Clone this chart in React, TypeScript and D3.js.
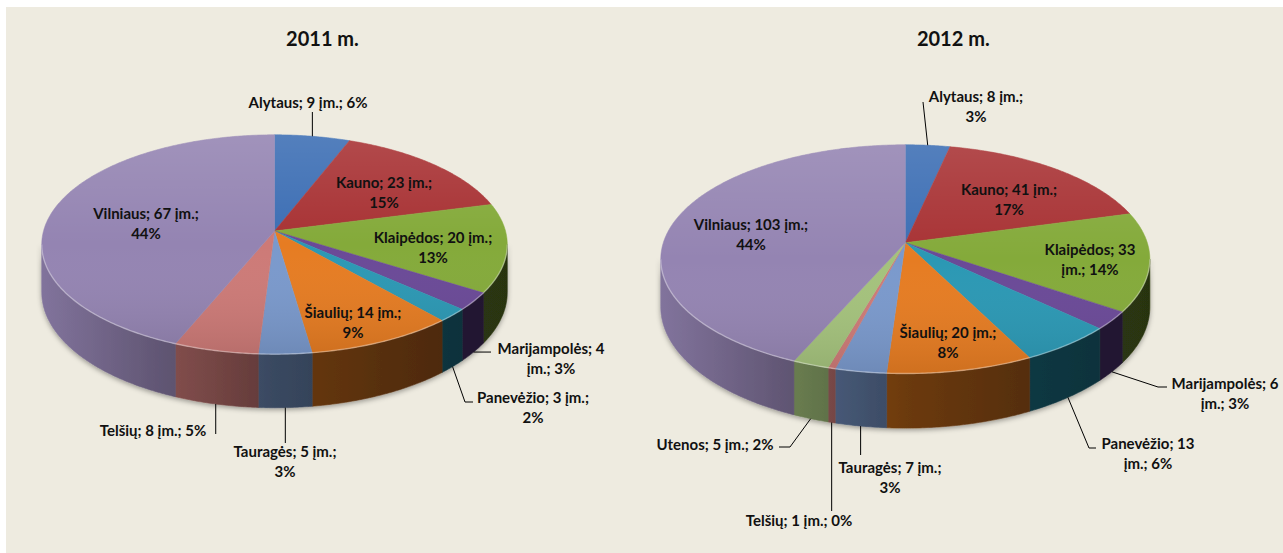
import * as d3 from "d3";

// --- data ---
const regions2011 = ["Alytaus", "Kauno", "Klaipėdos", "Marijampolės", "Panevėžio", "Šiaulių", "Tauragės", "Telšių", "Vilniaus"];
const companies2011 = [9, 23, 20, 4, 3, 14, 5, 8, 67];
const shares2011 = [6, 15, 13, 3, 2, 9, 3, 5, 44];

const regions2012 = ["Alytaus", "Kauno", "Klaipėdos", "Marijampolės", "Panevėžio", "Šiaulių", "Tauragės", "Telšių", "Utenos", "Vilniaus"];
const companies2012 = [8, 41, 33, 6, 13, 20, 7, 1, 5, 103];
const shares2012 = [3, 17, 14, 3, 6, 8, 3, 0, 2, 44];

const regionColors: Record<string, string> = {
  Alytaus: "#3c6eb4",
  Kauno: "#a83234",
  Klaipėdos: "#84aa3a",
  Marijampolės: "#6a4997",
  Panevėžio: "#2b98b4",
  Šiaulių: "#e67c22",
  Tauragės: "#7a99cc",
  Telšių: "#cd7a77",
  Utenos: "#a4c27c",
  Vilniaus: "#9484b2",
};

// --- layout ---
type Geo = { cx: number; cy: number; rx: number; ry: number; depth: number; k: number };
type Pt = [number | null, number | null];
type LabelPos = { x: number; y: number; wrap: "none" | "pct" | "unit"; leader?: Pt[] };

const geo2011: Geo = { cx: 274.5, cy: 231, rx: 231, ry: 108, depth: 47, k: 0.123 };
const geo2012: Geo = { cx: 905.3, cy: 242.7, rx: 242, ry: 112, depth: 46.7, k: 0.144 };

const labels2011: LabelPos[] = [
  { x: 308, y: 102, wrap: "none", leader: [[null, 112]] },
  { x: 384, y: 182, wrap: "pct" },
  { x: 433, y: 237, wrap: "pct" },
  { x: 551, y: 348, wrap: "unit", leader: [[491, null]] },
  { x: 533, y: 397, wrap: "pct", leader: [[465, 402], [473, 402]] },
  { x: 353, y: 312, wrap: "pct" },
  { x: 285, y: 451, wrap: "pct", leader: [[null, 443]] },
  { x: 153, y: 430, wrap: "none", leader: [[null, 434]] },
  { x: 146, y: 213, wrap: "pct" },
];

const labels2012: LabelPos[] = [
  { x: 976, y: 96, wrap: "pct", leader: [[923, 102]] },
  { x: 1009, y: 189, wrap: "pct" },
  { x: 1090, y: 249, wrap: "unit" },
  { x: 1225, y: 383, wrap: "unit", leader: [[1158, 387], [1167, 387]] },
  { x: 1148, y: 443, wrap: "unit", leader: [[1089, 448], [1096, 448]] },
  { x: 948, y: 332, wrap: "pct" },
  { x: 890, y: 467, wrap: "pct", leader: [[null, 455]] },
  { x: 799, y: 520, wrap: "none", leader: [[null, 511]] },
  { x: 715, y: 444, wrap: "none", leader: [[790, 447], [779, 447]] },
  { x: 751, y: 224, wrap: "pct" },
];

const FONT = "Lato, 'Liberation Sans', sans-serif";

// perspective projection of a point on the disc rim (a = clockwise angle from 12 o'clock)
const project = (g: Geo, a: number, h: number, r = 1): [number, number] => {
  const u = Math.sin(a) * r;
  const z = -Math.cos(a) * r;
  const s = 1 / (1 - g.k * z);
  return [g.cx + g.rx * u * s, g.cy + (g.ry * z + g.depth * h) * s];
};

const rimPoints = (g: Geo, a0: number, a1: number, h: number) => {
  const n = Math.max(2, Math.ceil((a1 - a0) / 0.01));
  return d3.range(n + 1).map((i) => project(g, a0 + ((a1 - a0) * i) / n, h));
};

const line = d3.line();

const shade = (c: string, f: number) => {
  const rgb = d3.rgb(c);
  return d3.rgb(rgb.r * f, rgb.g * f, rgb.b * f).formatHex();
};

function labelLines(name: string, v: number, p: number, wrap: string) {
  if (wrap === "none") return [`${name}; ${v} įm.; ${p}%`];
  if (wrap === "unit") return [`${name}; ${v}`, `įm.; ${p}%`];
  return [`${name}; ${v} įm.;`, `${p}%`];
}

function Pie3D({ id, title, regions, values, shares, geo, labels }: {
  id: string; title: string; regions: string[]; values: number[]; shares: number[]; geo: Geo; labels: LabelPos[];
}) {
  const arcs = d3.pie<number>().sort(null).startAngle(0).endAngle(2 * Math.PI)(values);
  const vis0 = Math.acos(-geo.k);
  const vis1 = 2 * Math.PI - vis0;
  const left = geo.cx - geo.rx * 1.02;
  const right = geo.cx + geo.rx * 1.02;
  const titleX = geo.cx + 48;

  return (
    <g>
      <defs>
        {regions.map((r, i) => (
          <linearGradient key={r} id={`${id}-wall-${i}`} gradientUnits="userSpaceOnUse" x1={left} x2={right} y1={0} y2={0}>
            <stop offset="0" stopColor={shade(regionColors[r], 0.88)} />
            <stop offset="0.25" stopColor={shade(regionColors[r], 0.66)} />
            <stop offset="0.5" stopColor={shade(regionColors[r], 0.47)} />
            <stop offset="0.75" stopColor={shade(regionColors[r], 0.37)} />
            <stop offset="1" stopColor={shade(regionColors[r], 0.3)} />
          </linearGradient>
        ))}
        <linearGradient id={`${id}-top`} x1="0" x2="0" y1="0" y2="1">
          <stop offset="0" stopColor="#fff" stopOpacity={0.12} />
          <stop offset="0.5" stopColor="#fff" stopOpacity={0} />
          <stop offset="1" stopColor="#000" stopOpacity={0.1} />
        </linearGradient>
      </defs>

      <text x={titleX} y={38} textAnchor="middle" dominantBaseline="central" fontFamily={FONT} fontWeight="bold" fontSize={20} fill="#111">
        {title}
      </text>

      {/* outer walls */}
      <g filter="url(#pieShadow)">
        {arcs.map((a, i) => {
          const t0 = Math.max(a.startAngle, vis0);
          const t1 = Math.min(a.endAngle, vis1);
          if (t1 <= t0) return null;
          const pts = [...rimPoints(geo, t0, t1, 0), ...rimPoints(geo, t0, t1, 1).reverse()];
          return (
            <path key={i} d={line(pts) + "Z"} fill={`url(#${id}-wall-${i})`} stroke={`url(#${id}-wall-${i})`} strokeWidth={0.6} />
          );
        })}
      </g>

      {/* top faces */}
      {arcs.map((a, i) => {
        const pts = [project(geo, 0, 0, 0), ...rimPoints(geo, a.startAngle, a.endAngle, 0)];
        const c = regionColors[regions[i]];
        return <path key={i} d={line(pts) + "Z"} fill={c} stroke={c} strokeWidth={0.5} strokeLinejoin="round" />;
      })}
      <path d={line(rimPoints(geo, 0, 2 * Math.PI, 0)) + "Z"} fill={`url(#${id}-top)`} />
      <path d={line(rimPoints(geo, vis0, vis1, 0)) ?? ""} fill="none" stroke="#fff" strokeOpacity={0.35} strokeWidth={1.4} />

      {/* leader lines */}
      {arcs.map((a, i) => {
        const lp = labels[i];
        if (!lp.leader) return null;
        const mid = (a.startAngle + a.endAngle) / 2;
        const front = Math.cos(mid) < 0;
        const start = project(geo, mid, front ? 1 : 0);
        const pts: [number, number][] = [start];
        lp.leader.forEach(([x, y]) => {
          const prev = pts[pts.length - 1];
          pts.push([x ?? prev[0], y ?? prev[1]]);
        });
        return <path key={i} d={line(pts) ?? ""} fill="none" stroke="#000" strokeWidth={1} />;
      })}

      {/* data labels */}
      {regions.map((r, i) => {
        const lp = labels[i];
        const lines = labelLines(r, values[i], shares[i], lp.wrap);
        return (
          <text key={r} textAnchor="middle" fontFamily={FONT} fontWeight="bold" fontSize={15} fill="#111">
            {lines.map((t, j) => (
              <tspan key={j} x={lp.x} y={lp.y + j * 20} dominantBaseline="central">
                {t}
              </tspan>
            ))}
          </text>
        );
      })}
    </g>
  );
}

export default function App() {
  return (
    <svg width={1283} height={553} style={{ position: "absolute", left: 0, top: 0 }}>
      <defs>
        <filter id="pieShadow" x="-10%" y="-20%" width="120%" height="160%">
          <feDropShadow dx="0" dy="2" stdDeviation="2.5" floodColor="#000" floodOpacity="0.35" />
        </filter>
      </defs>
      <rect x={0} y={0} width={1283} height={553} fill="#fff" />
      <rect x={6} y={7} width={1277} height={546} fill="#eeebe0" />
      <Pie3D id="p11" title="2011 m." regions={regions2011} values={companies2011} shares={shares2011} geo={geo2011} labels={labels2011} />
      <Pie3D id="p12" title="2012 m." regions={regions2012} values={companies2012} shares={shares2012} geo={geo2012} labels={labels2012} />
    </svg>
  );
}
